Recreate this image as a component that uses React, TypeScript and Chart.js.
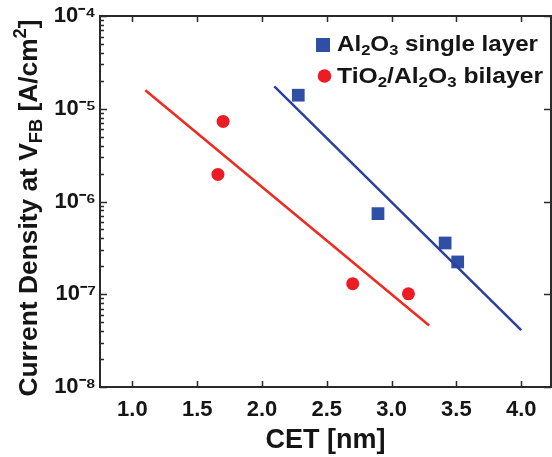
import { useEffect, useRef } from "react";
import { Chart, registerables } from "chart.js";

Chart.register(...registerables);

// ---------- data ----------
const seriesNames = ["Al₂O₃ single layer", "TiO₂/Al₂O₃ bilayer"];
const al2o3CET = [2.28, 2.895, 3.413, 3.51];
const al2o3J = [1.4e-5, 7.4e-7, 3.57e-7, 2.23e-7];
const bilayerCET = [1.66, 1.7, 2.7, 3.13];
const bilayerJ = [1.96e-6, 7.3e-6, 1.3e-7, 1.01e-7];
const al2o3FitCET = [2.095, 4.0];
const al2o3FitJ = [1.74e-5, 4.1e-8];
const bilayerFitCET = [1.1, 3.29];
const bilayerFitJ = [1.58e-5, 4.6e-8];
const xTicks = [1.0, 1.5, 2.0, 2.5, 3.0, 3.5, 4.0];
const xTickLabels = ["1.0", "1.5", "2.0", "2.5", "3.0", "3.5", "4.0"];
const yTicks = [1e-8, 1e-7, 1e-6, 1e-5, 1e-4];
const yTickLabels = ["10⁻⁸", "10⁻⁷", "10⁻⁶", "10⁻⁵", "10⁻⁴"];
const xTitle = "CET [nm]";
const yTitle = "Current Density at V_{FB} [A/cm^{2}]";

const FONT = "'Liberation Sans', Arial, Helvetica, sans-serif";
const BLUE = "#2F4EA6";
const BLUE_LINE = "#2B3F9E";
const RED = "#EC1C24";
const RED_LINE = "#EF2A1F";
const INK = "#151515";

type Seg = { t: string; k?: "sub" | "sup" };

function parseSegs(s: string): Seg[] {
  const out: Seg[] = [];
  const subMap: Record<string, string> = { "₀": "0", "₁": "1", "₂": "2", "₃": "3", "₄": "4" };
  let i = 0;
  let buf = "";
  const flush = () => {
    if (buf) out.push({ t: buf });
    buf = "";
  };
  while (i < s.length) {
    const c = s[i];
    if (subMap[c]) {
      flush();
      out.push({ t: subMap[c], k: "sub" });
      i++;
    } else if ((c === "_" || c === "^") && s[i + 1] === "{") {
      flush();
      const end = s.indexOf("}", i);
      out.push({ t: s.slice(i + 2, end), k: c === "_" ? "sub" : "sup" });
      i = end + 1;
    } else {
      buf += c;
      i++;
    }
  }
  flush();
  return out;
}

function segFont(size: number, k?: string) {
  return `bold ${k ? Math.round(size * 0.7) : size}px ${FONT}`;
}

function measureSegs(ctx: CanvasRenderingContext2D, segs: Seg[], size: number) {
  let w = 0;
  for (const s of segs) {
    ctx.font = segFont(size, s.k);
    w += ctx.measureText(s.t).width;
  }
  return w;
}

function drawSegs(ctx: CanvasRenderingContext2D, segs: Seg[], x: number, y: number, size: number) {
  let cx = x;
  ctx.textBaseline = "alphabetic";
  ctx.textAlign = "left";
  for (const s of segs) {
    ctx.font = segFont(size, s.k);
    const dy = s.k === "sub" ? size * 0.2 : s.k === "sup" ? -size * 0.42 : 0;
    ctx.fillText(s.t, cx, y + dy);
    cx += ctx.measureText(s.t).width;
  }
}

const decorPlugin = {
  id: "decor",
  afterDatasetsDraw(chart: any) {
    const ctx: CanvasRenderingContext2D = chart.ctx;
    const { left, right, top, bottom } = chart.chartArea;
    const xs = chart.scales.x;
    const ys = chart.scales.y;
    ctx.save();
    // frame
    ctx.strokeStyle = "#2a2a2a";
    ctx.lineWidth = 2;
    ctx.strokeRect(left, top, right - left, bottom - top);
    // x ticks (bottom and top, inward)
    ctx.lineWidth = 1.5;
    ctx.beginPath();
    for (const v of xTicks) {
      const px = Math.round(xs.getPixelForValue(v)) + 0.5;
      ctx.moveTo(px, bottom);
      ctx.lineTo(px, bottom - 6);
      ctx.moveTo(px, top);
      ctx.lineTo(px, top + 6);
    }
    // y ticks
    for (let e = -8; e <= -4; e++) {
      const py = Math.round(ys.getPixelForValue(Math.pow(10, e))) + 0.5;
      ctx.moveTo(left, py);
      ctx.lineTo(left + 7, py);
      ctx.moveTo(right, py);
      ctx.lineTo(right - 7, py);
      if (e < -4) {
        for (let k = 2; k <= 9; k++) {
          const pm = Math.round(ys.getPixelForValue(k * Math.pow(10, e))) + 0.5;
          ctx.moveTo(left, pm);
          ctx.lineTo(left + 4, pm);
        }
      }
    }
    ctx.stroke();

    // legend
    ctx.fillStyle = BLUE;
    ctx.fillRect(316, 38, 14, 14);
    ctx.fillStyle = RED;
    ctx.beginPath();
    ctx.arc(324.5, 76, 6.8, 0, Math.PI * 2);
    ctx.fill();
    ctx.fillStyle = INK;
    const legSize = 22;
    const rows = [51, 83];
    seriesNames.forEach((name, i) => {
      const segs = parseSegs(name);
      ctx.save();
      ctx.translate(337, rows[i]);
      const w = measureSegs(ctx, segs, legSize);
      const target = i === 0 ? 201 : 206;
      ctx.scale(target / w, 1);
      drawSegs(ctx, segs, 0, 0, legSize);
      ctx.restore();
    });

    // y title
    const ySegs = parseSegs(yTitle);
    const ySize = 26;
    ctx.save();
    ctx.translate(37, 208);
    ctx.rotate(-Math.PI / 2);
    const yw = measureSegs(ctx, ySegs, ySize);
    const yTarget = 377;
    ctx.scale(yTarget / yw, 1);
    drawSegs(ctx, ySegs, -yw / 2, 0, ySize);
    ctx.restore();

    ctx.restore();
  },
};

export default function App() {
  const ref = useRef<HTMLCanvasElement>(null);
  useEffect(() => {
    document.body.style.margin = "0";
    const canvas = ref.current!;
    const chart = new Chart(canvas, {
      type: "scatter",
      data: {
        datasets: [
          {
            label: seriesNames[0] + " fit",
            data: al2o3FitCET.map((x, i) => ({ x, y: al2o3FitJ[i] })),
            showLine: true,
            borderColor: BLUE_LINE,
            borderWidth: 2.5,
            pointRadius: 0,
            pointHoverRadius: 0,
          },
          {
            label: seriesNames[1] + " fit",
            data: bilayerFitCET.map((x, i) => ({ x, y: bilayerFitJ[i] })),
            showLine: true,
            borderColor: RED_LINE,
            borderWidth: 2.5,
            pointRadius: 0,
            pointHoverRadius: 0,
          },
          {
            label: seriesNames[0],
            data: al2o3CET.map((x, i) => ({ x, y: al2o3J[i] })),
            pointStyle: "rect",
            pointRadius: 9,
            backgroundColor: BLUE,
            borderColor: BLUE,
            borderWidth: 0,
          },
          {
            label: seriesNames[1],
            data: bilayerCET.map((x, i) => ({ x, y: bilayerJ[i] })),
            pointStyle: "circle",
            pointRadius: 6.5,
            backgroundColor: RED,
            borderColor: RED,
            borderWidth: 0,
          },
        ],
      },
      options: {
        animation: false,
        responsive: false,
        layout: { autoPadding: false, padding: { left: 0, right: 1, top: 16, bottom: 0 } },
        plugins: {
          legend: { display: false },
          tooltip: { enabled: false },
          title: { display: false },
        },
        scales: {
          x: {
            type: "linear",
            min: 0.75,
            max: 4.23,
            afterBuildTicks: (s: any) => {
              s.ticks = xTicks.map((v) => ({ value: v }));
            },
            afterFit: (s: any) => {
              s.height = 70;
              s.paddingLeft = 0;
              s.paddingRight = 0;
            },
            grid: { display: false, drawTicks: false },
            border: { display: false },
            ticks: {
              autoSkip: false,
              maxRotation: 0,
              padding: 10,
              color: INK,
              font: { family: FONT, size: 22, weight: "bold" },
              callback: (_v: any, i: number) => xTickLabels[i],
            },
            title: {
              display: true,
              text: xTitle,
              color: INK,
              font: { family: FONT, size: 27, weight: "bold" },
              padding: { top: 0, bottom: 0 },
            },
          },
          y: {
            type: "logarithmic",
            min: 1e-8,
            max: 1e-4,
            afterBuildTicks: (s: any) => {
              s.ticks = yTicks.map((v) => ({ value: v }));
            },
            afterFit: (s: any) => {
              s.width = 100;
              s.paddingTop = 0;
              s.paddingBottom = 0;
            },
            grid: { display: false, drawTicks: false },
            border: { display: false },
            ticks: {
              autoSkip: false,
              padding: 4,
              color: INK,
              font: { family: FONT, size: 22, weight: "bold" },
              callback: (_v: any, i: number) => yTickLabels[i],
            },
          },
        },
      },
      plugins: [decorPlugin],
    } as any);
    return () => chart.destroy();
  }, []);
  return (
    <div style={{ position: "fixed", left: 0, top: 0, width: 552, height: 457, background: "#fff" }}>
      <canvas ref={ref} width={552} height={457} />
    </div>
  );
}
